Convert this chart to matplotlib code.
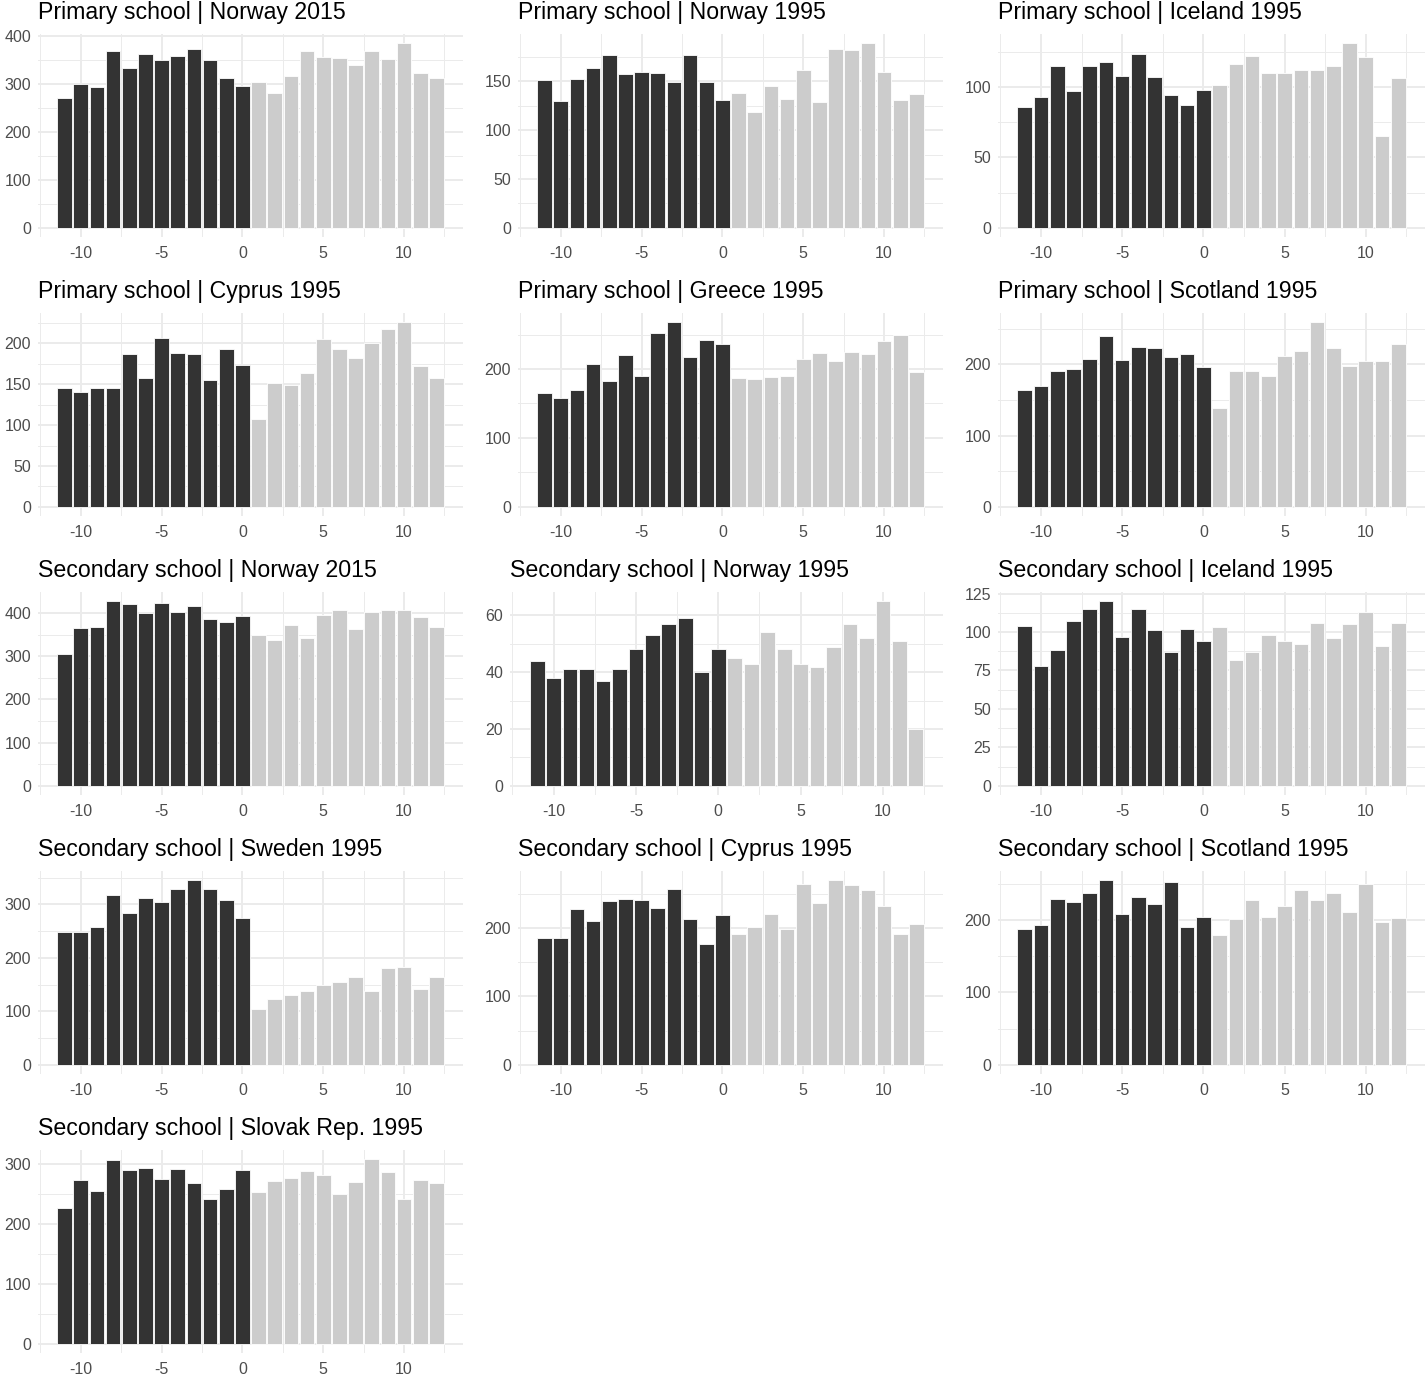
import matplotlib
matplotlib.use("Agg")
import matplotlib.pyplot as plt
import numpy as np

plt.rcParams['font.family'] = ['Liberation Sans', 'DejaVu Sans']
plt.rcParams['axes.unicode_minus'] = False

# running variable, -11 .. 12
xs = [-11, -10, -9, -8, -7, -6, -5, -4, -3, -2, -1, 0,
      1, 2, 3, 4, 5, 6, 7, 8, 9, 10, 11, 12]

titles = [
    "Primary school | Norway 2015", "Primary school | Norway 1995", "Primary school | Iceland 1995",
    "Primary school | Cyprus 1995", "Primary school | Greece 1995", "Primary school | Scotland 1995",
    "Secondary school | Norway 2015", "Secondary school | Norway 1995", "Secondary school | Iceland 1995",
    "Secondary school | Sweden 1995", "Secondary school | Cyprus 1995", "Secondary school | Scotland 1995",
    "Secondary school | Slovak Rep. 1995",
]

pri_nor15 = [271, 299, 293, 369, 334, 362, 349, 359, 373, 351, 312, 296,
             305, 281, 316, 369, 357, 355, 340, 368, 353, 385, 323, 312]
pri_nor95 = [151, 130, 152, 164, 177, 157, 160, 159, 149, 177, 149, 131,
             138, 119, 145, 132, 162, 129, 183, 182, 189, 160, 131, 137]
pri_isl95 = [86, 93, 115, 97, 115, 118, 108, 123, 107, 94, 87, 98,
             101, 116, 122, 110, 110, 112, 112, 115, 131, 121, 65, 106]
pri_cyp95 = [145, 141, 146, 146, 187, 158, 207, 188, 187, 155, 193, 174,
             107, 152, 149, 164, 206, 193, 182, 201, 218, 226, 172, 158]
pri_grc95 = [165, 158, 169, 207, 182, 220, 190, 253, 268, 218, 242, 236,
             187, 186, 188, 190, 214, 223, 211, 225, 222, 241, 249, 196]
pri_sco95 = [164, 169, 190, 194, 208, 240, 206, 224, 223, 210, 215, 196,
             139, 190, 190, 183, 212, 219, 259, 223, 197, 204, 205, 228]
sec_nor15 = [306, 364, 368, 427, 420, 399, 422, 401, 417, 385, 379, 393,
             350, 338, 371, 342, 395, 407, 362, 402, 407, 407, 390, 368]
sec_nor95 = [44, 38, 41, 41, 37, 41, 48, 53, 57, 59, 40, 48,
             45, 43, 54, 48, 43, 42, 49, 57, 52, 65, 51, 20]
sec_isl95 = [104, 78, 88, 107, 115, 120, 97, 115, 101, 87, 102, 94,
             103, 82, 87, 98, 94, 92, 106, 96, 105, 113, 91, 106]
sec_swe95 = [249, 248, 258, 317, 284, 311, 305, 329, 345, 329, 308, 274,
             105, 123, 131, 138, 150, 155, 165, 138, 180, 183, 142, 164]
sec_cyp95 = [185, 186, 228, 210, 239, 242, 241, 230, 257, 213, 177, 219,
             192, 202, 221, 198, 265, 236, 270, 263, 255, 233, 192, 206]
sec_sco95 = [188, 193, 229, 225, 238, 255, 209, 232, 222, 252, 190, 204,
             179, 201, 227, 204, 219, 241, 227, 237, 211, 250, 197, 203]
sec_svk95 = [227, 273, 255, 307, 290, 293, 275, 291, 269, 242, 259, 290,
             253, 271, 277, 289, 281, 250, 270, 308, 286, 241, 273, 269]

series = [pri_nor15, pri_nor95, pri_isl95, pri_cyp95, pri_grc95, pri_sco95,
          sec_nor15, sec_nor95, sec_isl95, sec_swe95, sec_cyp95, sec_sco95, sec_svk95]
ysteps = [100, 50, 50, 50, 100, 100, 100, 20, 25, 100, 100, 100, 100]

W, H = 1427, 1376
fig = plt.figure(figsize=(W / 100, H / 100), dpi=100)
fig.patch.set_facecolor('white')

col_x = [0, 480, 960]
col_right = [463, 943, 1425]
row_y = [0, 279, 558, 837, 1116]

for i, (title, vals, step) in enumerate(zip(titles, series, ysteps)):
    r, c = divmod(i, 3)
    vmax = max(vals)
    ticks = np.arange(0, vmax * 1.05 + 1e-9, step)
    labels = [str(int(t)) for t in ticks]
    nch = max(len(s) for s in labels)
    left = col_x[c] + 14 + 8 * nch
    right = col_right[c]
    top = row_y[r] + 34
    bottom = row_y[r] + 237
    ax = fig.add_axes([left / W, 1 - bottom / H, (right - left) / W, (bottom - top) / H])

    colors = ['#333333' if x <= 0 else '#CCCCCC' for x in xs]
    ax.bar(xs, vals, width=0.9, color=colors, edgecolor='white', linewidth=0.6, zorder=3)

    ax.set_xlim(-12.645, 13.645)
    ax.set_ylim(-0.05 * vmax, 1.05 * vmax)
    ax.set_xticks([-10, -5, 0, 5, 10])
    ax.set_xticklabels(['-10', '-5', '0', '5', '10'])
    ax.set_xticks([-12.5, -7.5, -2.5, 2.5, 7.5, 12.5], minor=True)
    ax.set_yticks(ticks)
    ax.set_yticklabels(labels)
    ax.set_yticks([t + step / 2 for t in ticks if t + step / 2 < 1.05 * vmax], minor=True)

    ax.grid(which='major', color='#EBEBEB', linewidth=1.4, zorder=0)
    ax.grid(which='minor', color='#EBEBEB', linewidth=0.7, zorder=0)
    ax.set_axisbelow(True)
    for s in ax.spines.values():
        s.set_visible(False)
    ax.tick_params(which='both', length=0, labelsize=11.5, labelcolor='#4D4D4D', pad=5)
    ax.tick_params(axis='x', pad=6.5)
    ax.set_title(title, loc='left', fontsize=16.7, pad=11, color='black')

fig.savefig('out.png', dpi=100, facecolor='white')
